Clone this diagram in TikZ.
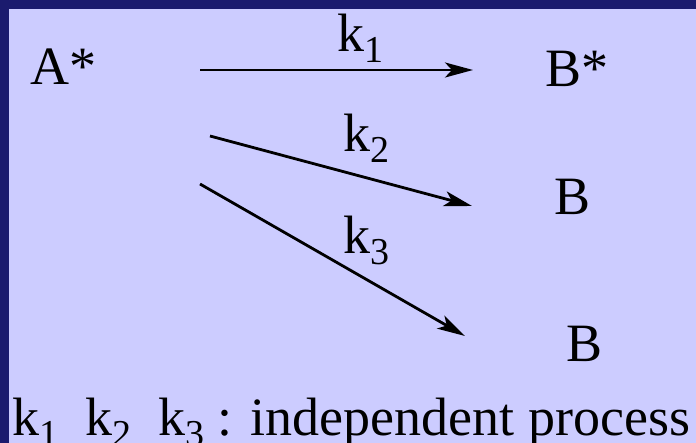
\documentclass[tikz,border=0pt]{standalone}
\usepackage{fontspec}
\IfFontExistsTF{Liberation Serif}{\setmainfont{Liberation Serif}}{\setmainfont{DejaVu Serif}}
\usetikzlibrary{arrows.meta}
\definecolor{bgcol}{HTML}{CCCCFF}
\definecolor{bandcol}{HTML}{1B1B6E}
\newcommand\kk[1]{k\raisebox{-11pt}{\fontsize{38}{40}\selectfont #1}}
\tikzset{
  lbl/.style={anchor=base west, inner sep=0pt, font=\rmfamily\fontsize{54}{60}\selectfont},
  rxn/.style={line width=2.8pt, -{Stealth[length=28pt,width=15pt,inset=7pt]}}
}
\begin{document}
\begin{tikzpicture}[x=1pt,y=-1pt]
\fill[bgcol] (0,0) rectangle (696,443);
\fill[bandcol] (0,0) rectangle (696,9);
\fill[bandcol] (0,0) rectangle (9,443);
\useasboundingbox (0,0) rectangle (696,443);
\node[lbl] (A) at (30,85) {A*};
\node[lbl] (Bs) at (545,87) {B*};
\node[lbl] (B1) at (554,215) {B};
\node[lbl] (B2) at (566,362) {B};
\coordinate (s1) at (200,70);
\coordinate (e1) at (473,70);
\coordinate (s2) at (210,136);
\coordinate (e2) at (472,206);
\coordinate (s3) at (200,184);
\coordinate (e3) at (465,336);
\draw[rxn] (s1) -- (e1);
\draw[rxn] (s2) -- (e2);
\draw[rxn] (s3) -- (e3);
\node[lbl] (k1) at (337,52) {\kk{1}};
\node[lbl] (k2) at (343,152) {\kk{2}};
\node[lbl] (k3) at (343,254) {\kk{3}};
\node[lbl] (note) at (12,435) {\kk{1}\ \ \kk{2}\ \ \kk{3} : independent process};
\end{tikzpicture}
\end{document}
